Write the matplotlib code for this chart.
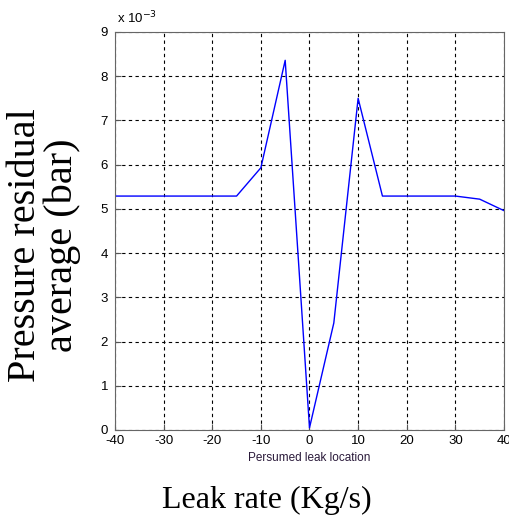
import matplotlib.pyplot as plt
import numpy as np

plt.rcParams['axes.unicode_minus'] = False

# persumed leak location vs pressure residual average (x 1e-3 bar)
location = [-40, -35, -30, -25, -20, -15, -10, -5, 0, 5, 10, 15, 20, 25, 30, 35, 40]
residual = [5.29, 5.29, 5.29, 5.29, 5.29, 5.29, 5.93, 8.36, 0.05, 2.42, 7.5,
            5.29, 5.29, 5.29, 5.29, 5.22, 4.96]

xticks = np.arange(-40, 41, 10)
yticks = np.arange(0, 10, 1)

fig = plt.figure(figsize=(5.1, 5.2), dpi=100)
ax = fig.add_axes([115/510, 1 - 430/520, (504-115)/510, (430-32)/520])

ax.plot(location, residual, color='blue', lw=1)

ax.set_xlim(-40, 40)
ax.set_ylim(0, 9)
ax.set_xticks(xticks)
ax.set_yticks(yticks)
ax.grid(True, color='black', linestyle=(0, (3, 3)), lw=0.8)
ax.tick_params(direction='in', labelsize=9.5, length=4, colors='#555555',
               labelcolor='black')
ax.tick_params(axis='y', pad=5)
for lab in ax.get_xticklabels() + ax.get_yticklabels():
    lab.set_family('Liberation Sans')
for s in ax.spines.values():
    s.set_color('#666666')

ax.text(0.005, 1.015, r'x 10$^{-3}$', transform=ax.transAxes, fontsize=9.5,
        family='Liberation Sans', va='bottom', ha='left')
ax.set_xlabel('Persumed leak location', fontsize=8.5, family='Liberation Sans',
              color='#2a1a3a', labelpad=4)

fig.text(267/510, 1 - 500/520, 'Leak rate (Kg/s)', ha='center', va='center',
         fontsize=23, family='Liberation Serif')
fig.text(44/510, 1 - 245/520, 'Pressure residual\naverage (bar)', ha='center',
         va='center', rotation=90, fontsize=29, family='Liberation Serif',
         linespacing=0.95)

fig.savefig('out.png', dpi=100)
